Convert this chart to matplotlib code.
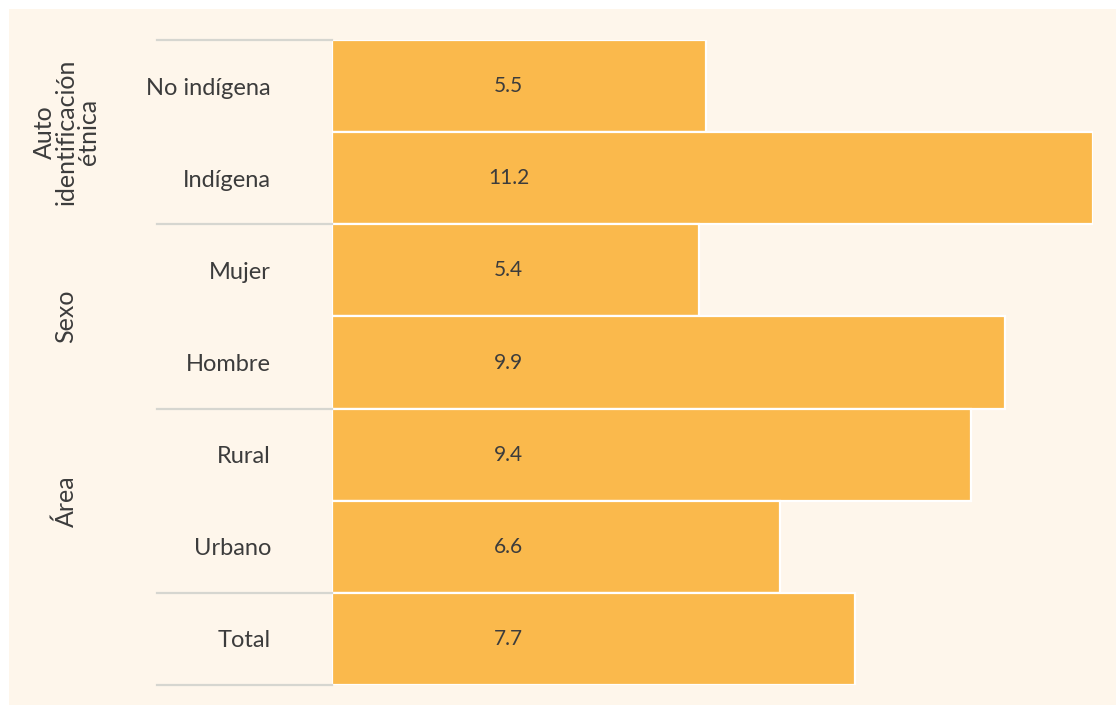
import matplotlib.pyplot as plt
import matplotlib.transforms as mtransforms
from matplotlib.patches import Rectangle

plt.rcParams['font.family'] = ['Lato', 'DejaVu Sans']

categories = ['No indígena', 'Indígena', 'Mujer', 'Hombre', 'Rural', 'Urbano', 'Total']
values = [5.5, 11.2, 5.4, 9.9, 9.4, 6.6, 7.7]
value_labels = ['5.5', '11.2', '5.4', '9.9', '9.4', '6.6', '7.7']
groups = ['Auto\nidentificación\nétnica', 'Sexo', 'Área']
group_rows = [(0, 1), (2, 3), (4, 5)]

bar_color = '#FAB94C'
bg_color = '#FEF6EB'
text_color = '#3c3c3c'
line_color = '#d6d6d0'

W, H = 1116, 705
fig = plt.figure(figsize=(W / 100, H / 100), dpi=100, facecolor='white')
fig.patches.append(Rectangle((9 / W, 0), 1, 1 - 9 / H, transform=fig.transFigure,
                             facecolor=bg_color, edgecolor='none', zorder=-10))

ax = fig.add_axes([332 / W, 1 - 685 / H, (1093 - 332) / W, (685 - 40) / H])
ax.set_facecolor('none')

y = list(range(len(categories)))
ax.barh(y, values, height=1.0, color=bar_color, edgecolor='white', linewidth=1.6)
ax.set_xlim(0, 11.2)
ax.set_ylim(6.5, -0.5)

for yi, lab in zip(y, value_labels):
    ax.text(2.6, yi, lab, ha='center', va='center', fontsize=15, color=text_color)

ax.set_yticks(y)
ax.set_yticklabels(categories, fontsize=17, color=text_color)
ax.tick_params(axis='y', length=0, pad=44)
ax.set_xticks([])
for s in ax.spines.values():
    s.set_visible(False)

trans = mtransforms.blended_transform_factory(ax.transAxes, ax.transData)
x_line0 = (157 - 332) / (1093 - 332)
for b in [-0.5, 1.5, 3.5, 5.5, 6.5]:
    ax.plot([x_line0, 0], [b, b], color=line_color, linewidth=1.6,
            transform=trans, clip_on=False, zorder=1)

x_grp = (66 - 332) / (1093 - 332)
for g, (r0, r1) in zip(groups, group_rows):
    ax.text(x_grp, (r0 + r1) / 2, g, rotation=90, ha='center', va='center',
            fontsize=18, color=text_color, transform=trans, linespacing=0.95)

fig.savefig('out.png', dpi=100, facecolor=fig.get_facecolor())
